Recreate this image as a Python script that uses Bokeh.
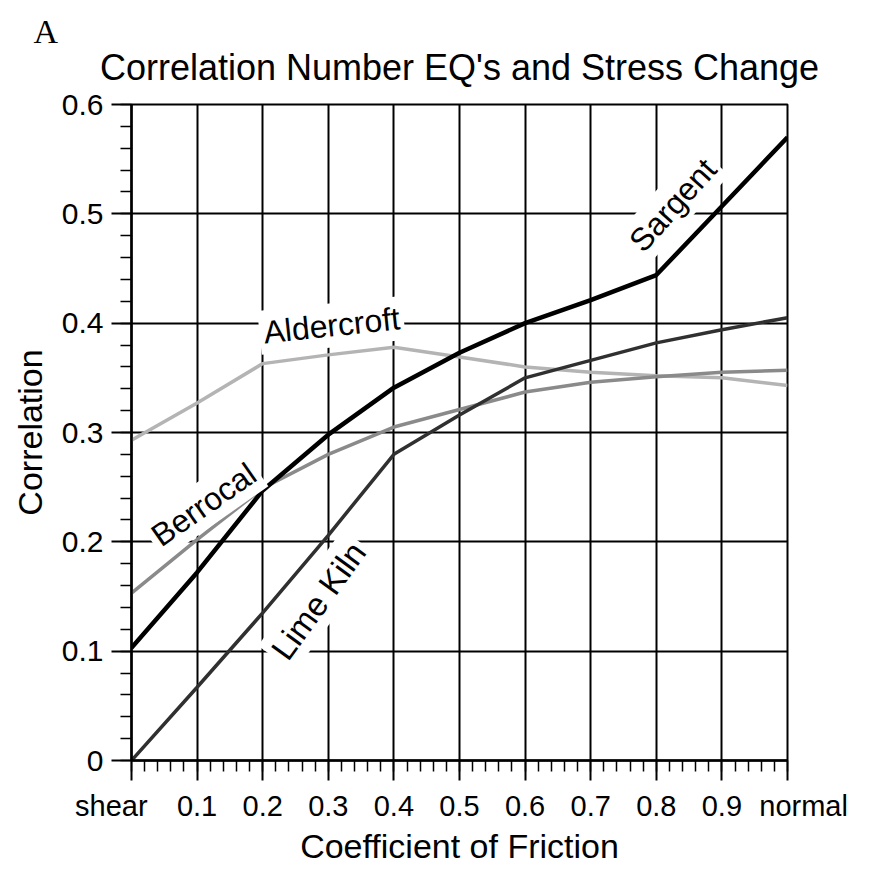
import numpy as np
from bokeh.plotting import figure
from bokeh.models import FixedTicker, Label, Range1d, Title
from bokeh.embed import file_html
from bokeh.resources import INLINE

# ---- data ----
friction = [0.0, 0.1, 0.2, 0.3, 0.4, 0.5, 0.6, 0.7, 0.8, 0.9, 1.0]
x_tick_labels = ["shear", "0.1", "0.2", "0.3", "0.4", "0.5", "0.6", "0.7", "0.8", "0.9", "normal"]
y_ticks = [0.0, 0.1, 0.2, 0.3, 0.4, 0.5, 0.6]
y_tick_labels = ["0", "0.1", "0.2", "0.3", "0.4", "0.5", "0.6"]

aldercroft = [0.293, 0.327, 0.363, 0.371, 0.378, 0.369, 0.360, 0.355, 0.352, 0.350, 0.343]
berrocal = [0.153, 0.202, 0.249, 0.280, 0.305, 0.321, 0.337, 0.346, 0.351, 0.355, 0.357]
lime_kiln = [0.0, 0.067, 0.135, 0.206, 0.280, 0.316, 0.350, 0.366, 0.382, 0.394, 0.405]
sargent = [0.103, 0.172, 0.247, 0.298, 0.341, 0.373, 0.400, 0.421, 0.444, 0.507, 0.570]

series_names = ["Aldercroft", "Berrocal", "Lime Kiln", "Sargent"]
series_values = [aldercroft, berrocal, lime_kiln, sargent]
series_colors = ["#b4b4b4", "#8a8a8a", "#303030", "#000000"]
series_widths = [3.5, 3.5, 3.5, 4.5]

label_names = ["Aldercroft", "Sargent", "Berrocal", "Lime Kiln"]
label_x = [0.305, 0.825, 0.11, 0.285]
label_y = [0.398, 0.508, 0.234, 0.146]
label_angle_deg = [6, 48, 35, 54]
label_sizes = ["32px", "32px", "32px", "33px"]

FONT = "Liberation Sans"
NB = "\u00a0"

p = figure(width=874, height=877, x_range=Range1d(0, 1), y_range=Range1d(0, 0.6),
           output_backend="svg", toolbar_location=None,
           min_border_left=131, min_border_right=87, min_border_top=104, min_border_bottom=117)

# panel letter (outermost title row)
p.title.text = "A"
p.title.text_font = "Liberation Serif"
p.title.text_font_size = "34px"
p.title.text_font_style = "normal"
p.title.align = "left"
p.title.offset = -98
p.title.text_color = "black"
try:
    p.title.standoff = -42
except Exception:
    p.title.standoff = 0

# main title (row next to the plot)
p.add_layout(Title(text="Correlation Number EQ's and Stress Change", align="center",
                   text_font=FONT, text_font_size="36px", text_font_style="normal",
                   text_color="black", standoff=33), "above")

p.outline_line_color = "black"
p.outline_line_width = 2
p.background_fill_color = "white"
p.border_fill_color = "white"

# grid
for g in (p.xgrid, p.ygrid):
    g.grid_line_color = "black"
    g.grid_line_width = 2
    g.grid_line_alpha = 1.0

# axes
minor_x = [float(v) for v in np.round(np.arange(0, 1.0001, 0.02), 2)]
minor_y = [float(v) for v in np.round(np.arange(0, 0.6001, 0.02), 2)]
p.xaxis.ticker = FixedTicker(ticks=friction, minor_ticks=minor_x)
p.yaxis.ticker = FixedTicker(ticks=y_ticks, minor_ticks=minor_y)
p.xgrid.ticker = FixedTicker(ticks=friction)
p.ygrid.ticker = FixedTicker(ticks=y_ticks)

x_over = {v: lab for v, lab in zip(friction, x_tick_labels)}
# the end labels sit a little outside their ticks in the original
x_over[friction[0]] = x_tick_labels[0] + NB * 5
x_over[friction[-1]] = NB * 4 + x_tick_labels[-1]
p.xaxis.major_label_overrides = x_over
p.yaxis.major_label_overrides = {v: lab for v, lab in zip(y_ticks, y_tick_labels)}

p.xaxis.axis_label = "Coefficient of Friction"
p.yaxis.axis_label = "Correlation"

for ax in (p.xaxis, p.yaxis):
    ax.axis_line_color = "black"
    ax.axis_line_width = 2.5
    ax.major_tick_in = 0
    ax.major_tick_out = 20
    ax.minor_tick_in = 0
    ax.minor_tick_out = 11
    ax.major_tick_line_color = "black"
    ax.major_tick_line_width = 2
    ax.minor_tick_line_color = "black"
    ax.minor_tick_line_width = 1.5
    ax.major_label_text_font = FONT
    ax.major_label_text_color = "black"
    ax.axis_label_text_font = FONT
    ax.axis_label_text_font_size = "34px"
    ax.axis_label_text_font_style = "normal"
    ax.axis_label_text_color = "black"
p.xaxis.major_label_text_font_size = "29px"
p.yaxis.major_label_text_font_size = "30px"
p.xaxis.major_label_standoff = 9
p.yaxis.major_label_standoff = 8
p.xaxis.axis_label_standoff = 2
p.yaxis.axis_label_standoff = 10

# lines
for name, vals, col, w in zip(series_names, series_values, series_colors, series_widths):
    p.line(friction, vals, line_color=col, line_width=w)

# series labels
for name, lx, ly, ang, fs in zip(label_names, label_x, label_y, label_angle_deg, label_sizes):
    p.add_layout(Label(x=lx, y=ly, text=name, angle=np.deg2rad(ang),
                       text_align="center", text_baseline="middle",
                       text_font=FONT, text_font_size=fs, text_color="black",
                       background_fill_color="white", background_fill_alpha=1.0,
                       padding=4))

open("out.html", "w").write(file_html(p, INLINE))
